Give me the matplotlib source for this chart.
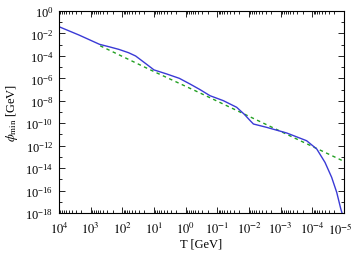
import matplotlib
matplotlib.use("Agg")
import matplotlib.pyplot as plt
from matplotlib.ticker import LogLocator, LogFormatterSciNotation, NullFormatter

plt.rcParams["font.family"] = ["Liberation Serif", "DejaVu Serif"]
plt.rcParams["mathtext.fontset"] = "stix"

# ----------------------------------
# data
# ----------------------------------

# blue solid curve
T_blue = [1e4, 10**3.37, 10**2.72, 10**2.4, 10**2.11, 10**1.8, 10**1.58,
          10**1.26, 1e1, 10**0.6, 10**0.2, 10**-0.14, 10**-0.45, 10**-0.77,
          10**-1.19, 10**-1.61, 10**-1.85, 10**-2.03, 10**-2.14, 10**-2.56,
          10**-3.19, 10**-3.82, 10**-4.14, 10**-4.40, 10**-4.61, 10**-4.77,
          10**-4.90, 10**-4.98]
phi_blue = [10**-1.40, 10**-2.14, 10**-2.97, 10**-3.2, 10**-3.42, 10**-3.72,
            10**-4.01, 10**-4.69, 10**-5.25, 10**-5.61, 10**-6.0, 10**-6.51,
            10**-7.0, 10**-7.55, 10**-7.99, 10**-8.58, 10**-9.2, 10**-9.75,
            10**-10.07, 10**-10.37, 10**-10.87, 10**-11.56, 10**-12.3,
            10**-13.49, 10**-14.82, 10**-16.16, 10**-17.65, 10**-18.4]

# green dashed line
T_green = [10**2.7, 1e1, 10**-0.45, 10**-1.9, 10**-3.5, 1e-5]
phi_green = [10**-3.1, 10**-5.4, 10**-7.3, 10**-9.25, 10**-11.4, 10**-13.4]

# x tick labels
x_ticks = [1e4, 1e3, 1e2, 1e1, 1e0, 1e-1, 1e-2, 1e-3, 1e-4, 1e-5]
x_ticklabels = [r"$10^{4}$", r"$10^{3}$", r"$10^{2}$", r"$10^{1}$", r"$10^{0}$",
                r"$10^{-1}$", r"$10^{-2}$", r"$10^{-3}$", r"$10^{-4}$", r"$10^{-5}$"]

# ----------------------------------
# plot
# ----------------------------------

fig = plt.figure(figsize=(3.54, 2.55), dpi=100)
ax = fig.add_axes([59 / 354, 1 - 214 / 255, 285 / 354, 202 / 255])

ax.plot(T_green, phi_green, color="#22a022", lw=1.0, ls=(0, (2.5, 2.5)))
ax.plot(T_blue, phi_blue, color="#3a3ad6", lw=1.0)

ax.set_xscale("log")
ax.set_yscale("log")
ax.set_xlim(1e4, 1e-5)
ax.set_ylim(1e-18, 1e0)

# last label is placed by hand so it stays inside the figure
ax.set_xticks(x_ticks, x_ticklabels[:-1] + [""])
ax.xaxis.set_minor_locator(LogLocator(base=10, subs=range(2, 10), numticks=20))
ax.xaxis.set_minor_formatter(NullFormatter())
ax.annotate(x_ticklabels[-1], xy=(x_ticks[-1], 0),
            xycoords=ax.get_xaxis_transform(),
            xytext=(-3, -6), textcoords="offset points",
            ha="center", va="top", fontsize=9)

ax.yaxis.set_major_locator(LogLocator(base=100, numticks=20))
ax.yaxis.set_major_formatter(LogFormatterSciNotation(base=10))
ax.yaxis.set_minor_locator(LogLocator(base=10, numticks=30))
ax.yaxis.set_minor_formatter(NullFormatter())

ax.tick_params(which="both", direction="in", top=True, right=True,
               labelsize=9, width=0.6)
ax.tick_params(which="major", length=4)
ax.tick_params(axis="x", which="major", pad=6)
ax.tick_params(axis="y", which="major", pad=4)
ax.tick_params(which="minor", length=2)
for s in ax.spines.values():
    s.set_linewidth(0.8)

ax.set_xlabel("T [GeV]", fontsize=9, labelpad=1)
ax.set_ylabel(r"$\phi_{\rm min}$ [GeV]", fontsize=9, labelpad=4)

fig.savefig("out.png", dpi=100)
